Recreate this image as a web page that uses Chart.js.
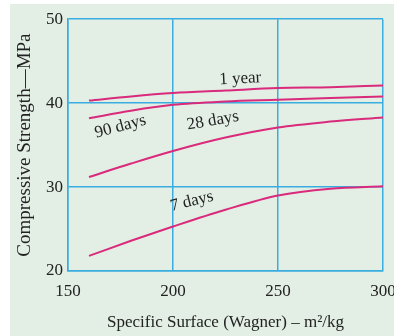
<!DOCTYPE html>
<html>
<head>
<meta charset="utf-8">
<script src="https://cdn.jsdelivr.net/npm/chart.js@4.4.1/dist/chart.umd.min.js"></script>
<style>
  html, body { margin: 0; padding: 0; background: #ffffff; overflow: hidden; }
  #wrap { position: absolute; left: 10px; top: 4px; width: 400px; height: 332px; background: #e3eee5; }
</style>
</head>
<body>
<div id="wrap"><canvas id="chart" width="400" height="332"></canvas></div>
<script>
// specific surface (m2/kg)
const surface = [160, 180, 200, 225, 250, 275, 300];

// compressive strength (MPa)
const year_1 = [40.3, 40.8, 41.2, 41.5, 41.8, 41.9, 42.1];
const days_90 = [38.2, 39.1, 39.8, 40.2, 40.4, 40.6, 40.8];
const days_28 = [31.2, 32.8, 34.3, 35.9, 37.1, 37.8, 38.3];
const days_7 = [21.8, 23.6, 25.3, 27.3, 29.0, 29.8, 30.1];

const x_ticks = [150, 200, 250, 300];
const y_ticks = [20, 30, 40, 50];

const curve_labels = ["1 year", "90 days", "28 days", "7 days"];

const LINE = "#d92a7c";
const GRID = "#39ade0";
const SERIF = "'Liberation Serif', 'DejaVu Serif', serif";

function to_points(xs, ys) {
    return xs.map(function (x, i) { return { x: x, y: ys[i] }; });
}

function make_set(label, values) {
    return {
        label: label,
        data: to_points(surface, values),
        showLine: true,
        borderColor: LINE,
        borderWidth: 2,
        pointRadius: 0,
        tension: 0.4,
        cubicInterpolationMode: "monotone",
        fill: false
    };
}

// text on the curves, placed in data coordinates
const curve_text = {
    id: "curve_text",
    afterDatasetsDraw(chart) {
        const ctx = chart.ctx;
        const xs = chart.scales.x;
        const ys = chart.scales.y;
        const spots = [
            [232, 42.9, -0.05],
            [175, 37.2, -0.26],
            [219, 37.9, -0.17],
            [209, 28.3, -0.24]
        ];
        ctx.save();
        ctx.fillStyle = "#222222";
        ctx.font = "17px " + SERIF;
        ctx.textAlign = "center";
        ctx.textBaseline = "middle";
        spots.forEach(function (s, i) {
            ctx.save();
            ctx.translate(xs.getPixelForValue(s[0]), ys.getPixelForValue(s[1]));
            ctx.rotate(s[2]);
            ctx.fillText(curve_labels[i], 0, 0);
            ctx.restore();
        });
        ctx.restore();
    }
};

const chart = new Chart(
    document.getElementById("chart"),
    {
        type: "scatter",
        data: {
            datasets: [
                make_set(curve_labels[0], year_1),
                make_set(curve_labels[1], days_90),
                make_set(curve_labels[2], days_28),
                make_set(curve_labels[3], days_7)
            ]
        },
        options: {
            responsive: false,
            animation: false,
            layout: { padding: { left: 4, right: 27, top: 14, bottom: 0 } },
            plugins: {
                legend: { display: false },
                tooltip: { enabled: false }
            },
            scales: {
                x: {
                    type: "linear",
                    min: 150,
                    max: 300,
                    afterBuildTicks: function (axis) {
                        axis.ticks = x_ticks.map(function (v) { return { value: v }; });
                    },
                    afterFit: function (axis) { axis.height = 65; },
                    grid: { color: GRID, lineWidth: 1.5, drawTicks: false },
                    border: { color: GRID, width: 1.5 },
                    ticks: {
                        color: "#222222",
                        padding: 10,
                        font: { family: SERIF, size: 17 }
                    },
                    title: {
                        display: true,
                        text: "Specific Surface (Wagner) \u2013 m\u00b2/kg",
                        color: "#222222",
                        font: { family: SERIF, size: 17 },
                        padding: { top: 0, bottom: 3 }
                    }
                },
                y: {
                    type: "linear",
                    min: 20,
                    max: 50,
                    afterBuildTicks: function (axis) {
                        axis.ticks = y_ticks.map(function (v) { return { value: v }; });
                    },
                    afterFit: function (axis) { axis.width = 54; },
                    grid: { color: GRID, lineWidth: 1.5, drawTicks: false },
                    border: { color: GRID, width: 1.5 },
                    ticks: {
                        color: "#222222",
                        padding: 5,
                        font: { family: SERIF, size: 17 }
                    },
                    title: {
                        display: true,
                        text: "Compressive Strength\u2014MPa",
                        color: "#222222",
                        font: { family: SERIF, size: 19 },
                        padding: { top: 0, bottom: 0 }
                    }
                }
            }
        },
        plugins: [curve_text]
    }
);
</script>
</body>
</html>
